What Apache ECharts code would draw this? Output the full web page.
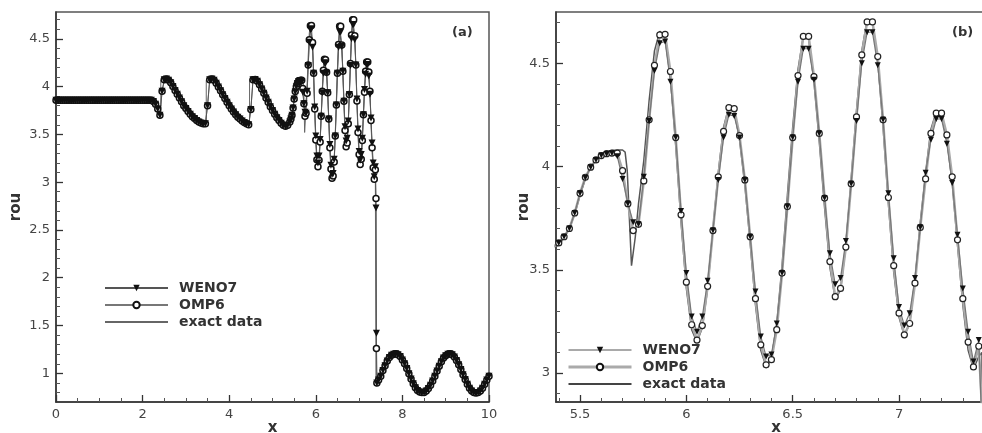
<!DOCTYPE html>
<html>
<head>
<meta charset="utf-8">
<script src="https://cdn.jsdelivr.net/npm/echarts@6.0.0/dist/echarts.min.js"></script>
<style>html,body{margin:0;padding:0;background:#fff}#c{width:982px;height:433px}</style>
</head>
<body>
<div id="c"></div>
<script>
// ---------- data ----------
// numerical solution, smooth/sawtooth left part (both schemes coincide here)
const xLeft = [0,0.05,0.1,0.15,0.2,0.25,0.3,0.35,0.4,0.45,0.5,0.55,0.6,0.65,0.7,0.75,0.8,0.85,0.9,0.95,
1.0,1.05,1.1,1.15,1.2,1.25,1.3,1.35,1.4,1.45,1.5,1.55,1.6,1.65,1.7,1.75,1.8,1.85,1.9,1.95,
2.0,2.05,2.1,2.15,2.2,2.25,2.3,2.35,2.4,2.45,2.5,2.55,2.6,2.65,2.7,2.75,2.8,2.85,2.9,2.95,
3.0,3.05,3.1,3.15,3.2,3.25,3.3,3.35,3.4,3.45,3.5,3.55,3.6,3.65,3.7,3.75,3.8,3.85,3.9,3.95,
4.0,4.05,4.1,4.15,4.2,4.25,4.3,4.35,4.4,4.45,4.5,4.55,4.6,4.65,4.7,4.75,4.8,4.85,4.9,4.95,
5.0,5.05,5.1,5.15,5.2,5.25,5.3,5.35];
const rhoLeft = [3.857,3.857,3.857,3.857,3.857,3.857,3.857,3.857,3.857,3.857,3.857,3.857,3.857,3.857,3.857,3.857,3.857,3.857,3.857,3.857,
3.857,3.857,3.857,3.857,3.857,3.857,3.857,3.857,3.857,3.857,3.857,3.857,3.857,3.857,3.857,3.857,3.857,3.857,3.857,3.857,
3.857,3.857,3.857,3.857,3.857,3.845,3.815,3.765,3.70,3.95,4.07,4.08,4.065,4.04,4.0,3.96,3.92,3.88,3.84,3.8,
3.77,3.74,3.71,3.685,3.665,3.645,3.63,3.62,3.61,3.61,3.8,4.07,4.08,4.065,4.035,3.995,3.955,3.915,3.875,3.835,
3.8,3.765,3.735,3.705,3.68,3.66,3.64,3.625,3.61,3.6,3.76,4.07,4.075,4.055,4.02,3.975,3.93,3.88,3.835,3.79,
3.75,3.71,3.675,3.645,3.615,3.595,3.585,3.595];

// numerical solution, high-frequency region and shock
const xOsc = [5.4,5.425,5.45,5.475,5.5,5.525,5.55,5.575,5.6,5.625,5.65,5.675,5.7,5.725,5.75,5.775,5.8,5.825,5.85,5.875,
5.9,5.925,5.95,5.975,6.0,6.025,6.05,6.075,6.1,6.125,6.15,6.175,6.2,6.225,6.25,6.275,6.3,6.325,6.35,6.375,
6.4,6.425,6.45,6.475,6.5,6.525,6.55,6.575,6.6,6.625,6.65,6.675,6.7,6.725,6.75,6.775,6.8,6.825,6.85,6.875,
6.9,6.925,6.95,6.975,7.0,7.025,7.05,7.075,7.1,7.125,7.15,7.175,7.2,7.225,7.25,7.275,7.3,7.325,7.35,7.375,
7.39,7.4,7.41];
const wenoOsc = [3.63,3.66,3.70,3.775,3.87,3.945,3.997,4.032,4.053,4.061,4.064,4.05,3.94,3.82,3.73,3.72,3.95,4.22,4.463,4.597,
4.605,4.41,4.14,3.785,3.484,3.274,3.2,3.274,3.447,3.69,3.935,4.14,4.25,4.245,4.14,3.935,3.66,3.395,3.177,3.08,
3.09,3.24,3.484,3.806,4.14,4.41,4.57,4.57,4.42,4.16,3.847,3.58,3.43,3.46,3.64,3.916,4.22,4.5,4.65,4.65,
4.49,4.226,3.87,3.556,3.32,3.23,3.29,3.46,3.705,3.97,4.13,4.23,4.23,4.11,3.92,3.67,3.41,3.2,3.056,3.16,
2.73,1.42,0.9];
const ompOsc = [3.63,3.66,3.70,3.775,3.87,3.948,3.997,4.032,4.053,4.062,4.065,4.065,3.98,3.82,3.69,3.72,3.93,4.226,4.49,4.637,
4.64,4.46,4.14,3.766,3.44,3.234,3.16,3.23,3.42,3.69,3.95,4.17,4.285,4.28,4.15,3.935,3.66,3.36,3.137,3.04,
3.065,3.21,3.484,3.806,4.14,4.44,4.63,4.63,4.435,4.16,3.847,3.54,3.37,3.41,3.61,3.916,4.24,4.54,4.70,4.70,
4.532,4.226,3.85,3.52,3.29,3.185,3.24,3.435,3.705,3.94,4.16,4.258,4.258,4.153,3.95,3.645,3.36,3.15,3.03,3.13,
2.83,1.26,0.9];

// post-shock sine-like region (all three coincide)
const xRight = [7.45,7.5,7.55,7.6,7.65,7.7,7.75,7.8,7.85,7.9,7.95,8.0,8.05,8.1,8.15,8.2,8.25,8.3,8.35,8.4,
8.45,8.5,8.55,8.6,8.65,8.7,8.75,8.8,8.85,8.9,8.95,9.0,9.05,9.1,9.15,9.2,9.25,9.3,9.35,9.4,
9.45,9.5,9.55,9.6,9.65,9.7,9.75,9.8,9.85,9.9,9.95,10.0];
const rhoRight = [0.93,0.97,1.03,1.08,1.13,1.165,1.19,1.2,1.205,1.195,1.175,1.14,1.10,1.05,0.995,0.94,0.89,0.85,0.82,0.805,
0.8,0.8,0.815,0.84,0.875,0.92,0.97,1.025,1.075,1.12,1.16,1.185,1.2,1.205,1.195,1.17,1.135,1.09,1.04,0.985,
0.935,0.885,0.845,0.815,0.8,0.795,0.8,0.815,0.845,0.885,0.93,0.97];

// exact data (up to the shock)
const exactX = [0,2.2,2.25,2.3,2.35,2.42,2.42,2.5,2.6,2.7,2.8,2.9,3.0,3.1,3.2,3.3,3.4,3.47,3.47,3.6,
3.7,3.8,3.9,4.0,4.1,4.2,4.3,4.4,4.47,4.47,4.6,4.7,4.8,4.9,5.0,5.1,5.2,5.3,5.35,
5.4,5.425,5.45,5.475,5.5,5.525,5.55,5.575,5.6,5.625,5.65,5.675,5.7,5.712,5.722,5.732,5.742,5.75,5.76,5.775,
5.8,5.825,5.85,5.875,5.9,5.925,5.95,5.975,6.0,6.025,6.05,6.075,6.1,6.125,6.15,6.175,6.2,6.225,6.25,6.275,
6.3,6.325,6.35,6.375,6.4,6.425,6.45,6.475,6.5,6.525,6.55,6.575,6.6,6.625,6.65,6.675,6.7,6.725,6.75,6.775,
6.8,6.825,6.85,6.875,6.9,6.925,6.95,6.975,7.0,7.025,7.05,7.075,7.1,7.125,7.15,7.175,7.2,7.225,7.25,7.275,
7.3,7.325,7.35,7.375,7.39,7.39,7.41];
const exactRho = [3.857,3.857,3.845,3.815,3.765,3.70,4.07,4.08,4.065,4.0,3.92,3.84,3.77,3.71,3.665,3.63,3.61,3.605,4.07,4.08,
4.035,3.955,3.875,3.8,3.735,3.68,3.64,3.61,3.6,4.075,4.075,4.02,3.93,3.835,3.75,3.675,3.615,3.585,3.595,
3.62,3.655,3.70,3.77,3.86,3.94,3.995,4.035,4.06,4.072,4.078,4.08,4.08,4.07,3.98,3.75,3.52,3.52,3.66,3.82,
4.03,4.32,4.56,4.655,4.62,4.43,4.10,3.73,3.41,3.21,3.15,3.22,3.41,3.70,3.97,4.19,4.29,4.27,4.13,3.91,
3.63,3.33,3.11,3.03,3.07,3.24,3.52,3.86,4.19,4.47,4.63,4.62,4.41,4.12,3.80,3.51,3.36,3.40,3.62,3.94,
4.27,4.56,4.71,4.70,4.51,4.19,3.82,3.49,3.27,3.18,3.24,3.45,3.73,3.97,4.18,4.265,4.25,4.13,3.92,3.62,
3.33,3.11,3.02,3.08,3.10,0.89,0.9];

// tick labels
const xTicksA = [0,2,4,6,8,10];
const yTicksA = [1,1.5,2,2.5,3,3.5,4,4.5];
const yMinorA = [0.8,0.9,1.1,1.2,1.3,1.4,1.6,1.7,1.8,1.9,2.1,2.2,2.3,2.4,2.6,2.7,2.8,2.9,3.1,3.2,3.3,3.4,3.6,3.7,3.8,3.9,4.1,4.2,4.3,4.4,4.6,4.7];
const xTicksB = [5.5,6,6.5,7];
const xMinorB = [5.4,5.6,5.7,5.8,5.9,6.1,6.2,6.3,6.4,6.6,6.7,6.8,6.9,7.1,7.2,7.3,7.4];
const yTicksB = [3,3.5,4,4.5];
const yMinorB = [2.9,3.1,3.2,3.3,3.4,3.6,3.7,3.8,3.9,4.1,4.2,4.3,4.4,4.6,4.7];

// ---------- build ----------
const zip = (xs, ys) => xs.map((x, i) => [x, ys[i]]);
const wenoData = zip(xLeft, rhoLeft).concat(zip(xOsc, wenoOsc), zip(xRight, rhoRight));
const ompData = zip(xLeft, rhoLeft).concat(zip(xOsc, ompOsc), zip(xRight, rhoRight));
const exactData = zip(exactX, exactRho).concat(zip(xRight, rhoRight));

const FONT = 'DejaVu Sans';
const AX = '#333';
const labelStyle = {fontFamily: FONT, fontSize: 13, color: '#444'};
const nameStyle = {fontFamily: FONT, fontSize: 15, fontWeight: 'bold', color: '#333'};

function mainAxis(o) {
  return Object.assign({
    type: 'value', splitLine: {show: false},
    axisLine: {show: true, onZero: false, lineStyle: {color: AX, width: 1.5}},
    axisTick: {show: true, inside: true, length: 7, lineStyle: {color: AX, width: 1.3}},
    axisLabel: Object.assign({margin: 6}, labelStyle),
    nameLocation: 'middle', nameMoveOverlap: false, nameTextStyle: nameStyle
  }, o);
}
function minorAxis(o) {
  return Object.assign({
    type: 'value', splitLine: {show: false},
    axisLine: {show: false, onZero: false},
    axisLabel: {show: false},
    axisTick: {show: true, inside: true, length: 4, lineStyle: {color: '#555', width: 1}}
  }, o);
}

const chart = echarts.init(document.getElementById('c'), null, {renderer: 'canvas'});
const legendText = {fontFamily: FONT, fontSize: 14, fontWeight: 'bold', color: '#333', padding: [0, 0, 0, 6]};
const noSymbol = {color: 'rgba(0,0,0,0)', borderColor: 'rgba(0,0,0,0)', opacity: 0};

chart.setOption({
  animation: false,
  backgroundColor: '#fff',
  grid: [
    {left: 56, top: 12, width: 433, height: 390, show: true, borderColor: '#555', borderWidth: 1.5,
     backgroundColor: 'transparent', outerBoundsMode: 'none', containLabel: false},
    {left: 556, top: 12, width: 440, height: 390, show: true, borderColor: '#555', borderWidth: 1.5,
     backgroundColor: 'transparent', outerBoundsMode: 'none', containLabel: false}
  ],
  xAxis: [
    mainAxis({gridIndex: 0, min: 0, max: 10, interval: 2, name: 'x', nameGap: 19,
      minorTick: {show: true, splitNumber: 4, length: 4, lineStyle: {color: '#555', width: 1}}}),
    mainAxis({gridIndex: 1, min: 5.387, max: 7.456, name: 'x', nameGap: 19,
      axisLabel: Object.assign({margin: 6, customValues: xTicksB}, labelStyle),
      axisTick: {show: true, inside: true, length: 7, customValues: xTicksB, lineStyle: {color: AX, width: 1.3}}}),
    minorAxis({gridIndex: 1, min: 5.387, max: 7.456, position: 'bottom',
      axisTick: {show: true, inside: true, length: 4, customValues: xMinorB, lineStyle: {color: '#555', width: 1}}})
  ],
  yAxis: [
    mainAxis({gridIndex: 0, min: 0.7, max: 4.78, name: 'rou', nameGap: 32, position: 'left',
      axisLabel: Object.assign({margin: 6, customValues: yTicksA}, labelStyle),
      axisTick: {show: true, inside: true, length: 7, customValues: yTicksA, lineStyle: {color: AX, width: 1.3}}}),
    mainAxis({gridIndex: 1, min: 2.86, max: 4.748, name: 'rou', nameGap: 24, position: 'left',
      axisLabel: Object.assign({margin: 6, customValues: yTicksB}, labelStyle),
      axisTick: {show: true, inside: true, length: 7, customValues: yTicksB, lineStyle: {color: AX, width: 1.3}}}),
    minorAxis({gridIndex: 0, min: 0.7, max: 4.78, position: 'left',
      axisTick: {show: true, inside: true, length: 4, customValues: yMinorA, lineStyle: {color: '#555', width: 1}}}),
    minorAxis({gridIndex: 1, min: 2.86, max: 4.748, position: 'left',
      axisTick: {show: true, inside: true, length: 4, customValues: yMinorB, lineStyle: {color: '#555', width: 1}}})
  ],
  legend: [
    {left: 104, top: 281, orient: 'vertical', itemWidth: 63, itemHeight: 8, itemGap: 3, padding: 0,
     selectedMode: false, textStyle: legendText,
     data: [{name: 'WENO7'}, {name: 'OMP6'}, {name: 'exact data', itemStyle: noSymbol}]},
    {left: 567, top: 343, orient: 'vertical', itemWidth: 63, itemHeight: 8, itemGap: 3, padding: 0,
     selectedMode: false, textStyle: legendText,
     data: [{name: 'WENO7', lineStyle: {color: '#555', width: 1}},
            {name: 'OMP6', lineStyle: {color: '#aaa', width: 3}},
            {name: 'exact data', lineStyle: {color: '#444', width: 2}, itemStyle: noSymbol}]}
  ],
  graphic: [
    {type: 'text', left: 452, top: 26, style: {text: '(a)', font: 'bold 13px "DejaVu Sans"', fill: '#333'}},
    {type: 'text', left: 952, top: 26, style: {text: '(b)', font: 'bold 13px "DejaVu Sans"', fill: '#333'}}
  ],
  series: [
    {name: 'exact data', type: 'line', xAxisIndex: 0, yAxisIndex: 0, data: exactData, symbol: 'none', showSymbol: false,
     lineStyle: {color: '#666', width: 1}, itemStyle: {color: '#666'}},
    {name: 'OMP6', type: 'line', xAxisIndex: 0, yAxisIndex: 0, data: ompData, symbol: 'circle', symbolSize: 6,
     lineStyle: {color: '#777', width: 1}, itemStyle: {color: '#fff', borderColor: '#111', borderWidth: 1.5}},
    {name: 'WENO7', type: 'line', xAxisIndex: 0, yAxisIndex: 0, data: wenoData, symbol: 'triangle', symbolRotate: 180, symbolSize: 7,
     lineStyle: {color: '#555', width: 1}, itemStyle: {color: '#111'}},
    {name: 'exact data', type: 'line', xAxisIndex: 1, yAxisIndex: 1, data: exactData, symbol: 'none', showSymbol: false,
     lineStyle: {color: '#555', width: 1.5}, itemStyle: {color: '#555'}},
    {name: 'OMP6', type: 'line', xAxisIndex: 1, yAxisIndex: 1, data: ompData, symbol: 'circle', symbolSize: 6,
     lineStyle: {color: '#aaa', width: 2.5}, itemStyle: {color: '#fff', borderColor: '#222', borderWidth: 1.2}},
    {name: 'WENO7', type: 'line', xAxisIndex: 1, yAxisIndex: 1, data: wenoData, symbol: 'triangle', symbolRotate: 180, symbolSize: 6,
     lineStyle: {color: '#777', width: 1.2}, itemStyle: {color: '#111'}}
  ]
});
</script>
</body>
</html>
